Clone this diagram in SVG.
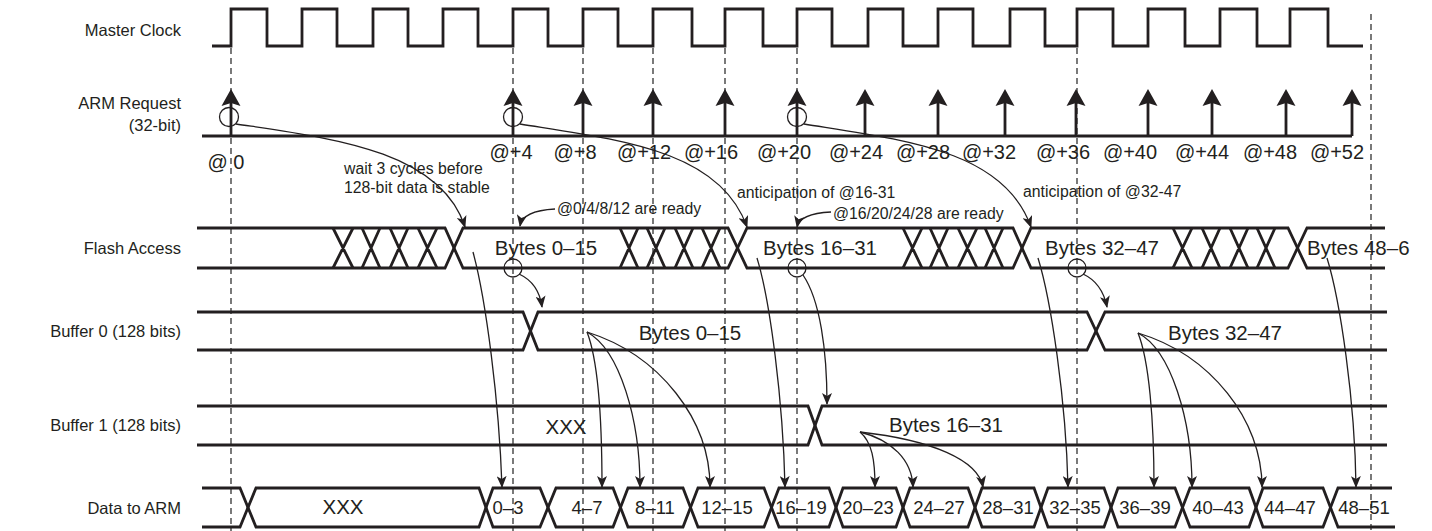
<svg xmlns="http://www.w3.org/2000/svg" width="1432" height="531" viewBox="0 0 1432 531">
<style>
.bg{fill:#ffffff}
.sig{fill:none;stroke:#231f20;stroke-width:2.8;stroke-linejoin:miter}
.dash{fill:none;stroke:#333;stroke-width:1.3;stroke-dasharray:6,4}
.thin{fill:none;stroke:#231f20;stroke-width:1.3}
.arr{fill:none;stroke:#231f20;stroke-width:1.3;marker-end:url(#ah)}
.circ{fill:none;stroke:#231f20;stroke-width:1.3}
.lbl{font-family:"Liberation Sans",Arial,sans-serif;font-size:16.5px;fill:#231f20;text-anchor:end}
.big{font-family:"Liberation Sans",Arial,sans-serif;font-size:20.5px;fill:#231f20;text-anchor:middle}
.dat{font-family:"Liberation Sans",Arial,sans-serif;font-size:18.5px;fill:#231f20;text-anchor:middle}
.at{font-family:"Liberation Sans",Arial,sans-serif;font-size:20px;fill:#231f20;text-anchor:middle}
.sm{font-family:"Liberation Sans",Arial,sans-serif;font-size:15.8px;fill:#231f20}
.req{fill:#231f20}
</style>
<defs>
<marker id="ah" viewBox="0 0 12 10" refX="11" refY="5" markerWidth="12" markerHeight="10" orient="auto" markerUnits="userSpaceOnUse">
<path d="M0,0 L12,5 L0,10 L3,5 z" fill="#231f20"/>
</marker>
</defs>
<rect class="bg" x="0" y="0" width="1432" height="531"/>

<g id="guides">
<path class="dash" d="M231,48 V531 M513,48 V531 M583,48 V531 M653,48 V531 M725,48 V531 M797,48 V531 M1077,48 V531 M1371,14 V531"/>
</g>

<g id="master-clock">
<text class="lbl" x="181" y="36">Master Clock</text>
<path class="sig" d="M212,46 H231 V9 H267 V46 H302 V9 H337 V46 H373 V9 H408 V46 H443 V9 H478 V46 H513 V9 H548 V46 H583 V9 H618 V46 H653 V9 H692 V46 H725 V9 H763 V46 H797 V9 H832 V46 H868 V9 H903 V46 H938 V9 H973 V46 H1010 V9 H1045 V46 H1077 V9 H1113 V46 H1148 V9 H1185 V46 H1220 V9 H1257 V46 H1290 V9 H1328 V46 H1363"/>
</g>

<g id="arm-request">
<text class="lbl" x="181" y="109">ARM Request</text>
<text class="lbl" x="181" y="131">(32-bit)</text>
<path class="sig" d="M202,136 H1352"/>
<path class="sig" d="M231,136 V102 M513,136 V102 M583,136 V102 M653,136 V102 M725,136 V102 M797,136 V102 M865,136 V102 M938,136 V102 M1005,136 V102 M1076,136 V102 M1148,136 V102 M1212,136 V102 M1286,136 V102 M1352,136 V102"/>
<g class="req">
<path d="M231,89 L240.5,106 L231,103 L221.5,106 Z"/>
<path d="M513,89 L522.5,106 L513,103 L503.5,106 Z"/>
<path d="M583,89 L592.5,106 L583,103 L573.5,106 Z"/>
<path d="M653,89 L662.5,106 L653,103 L643.5,106 Z"/>
<path d="M725,89 L734.5,106 L725,103 L715.5,106 Z"/>
<path d="M797,89 L806.5,106 L797,103 L787.5,106 Z"/>
<path d="M865,89 L874.5,106 L865,103 L855.5,106 Z"/>
<path d="M938,89 L947.5,106 L938,103 L928.5,106 Z"/>
<path d="M1005,89 L1014.5,106 L1005,103 L995.5,106 Z"/>
<path d="M1076,89 L1085.5,106 L1076,103 L1066.5,106 Z"/>
<path d="M1148,89 L1157.5,106 L1148,103 L1138.5,106 Z"/>
<path d="M1212,89 L1221.5,106 L1212,103 L1202.5,106 Z"/>
<path d="M1286,89 L1295.5,106 L1286,103 L1276.5,106 Z"/>
<path d="M1352,89 L1361.5,106 L1352,103 L1342.5,106 Z"/>
</g>
<circle class="circ" cx="229" cy="117" r="9.5"/>
<circle class="circ" cx="513" cy="117" r="9.5"/>
<circle class="circ" cx="797" cy="117" r="9.5"/>
<text class="at" x="226" y="169">@ 0</text>
<text class="at" x="511" y="159">@+4</text>
<text class="at" x="575" y="159">@+8</text>
<text class="at" x="644" y="159">@+12</text>
<text class="at" x="711" y="159">@+16</text>
<text class="at" x="784" y="159">@+20</text>
<text class="at" x="856" y="159">@+24</text>
<text class="at" x="923" y="159">@+28</text>
<text class="at" x="989" y="159">@+32</text>
<text class="at" x="1063" y="159">@+36</text>
<text class="at" x="1130" y="159">@+40</text>
<text class="at" x="1202" y="159">@+44</text>
<text class="at" x="1270" y="159">@+48</text>
<text class="at" x="1337" y="159">@+52</text>
</g>

<g id="flash-access">
<text class="lbl" x="181" y="254">Flash Access</text>
<path class="sig" d="M197,228 H445 L463,268 H728 L747,228 H1013 L1031,268 H1288 L1307,228 H1385"/>
<path class="sig" d="M197,268 H445 L463,228 H728 L747,268 H1013 L1031,228 H1288 L1307,268 H1385"/>
<path class="sig" d="M333,228 L353,268 M333,268 L353,228 M362,228 L380,268 M362,268 L380,228 M390,228 L408,268 M390,268 L408,228 M418,228 L437,268 M418,268 L437,228
M620,228 L638,268 M620,268 L638,228 M647,228 L665,268 M647,268 L665,228 M675,228 L693,268 M675,268 L693,228 M702,228 L720,268 M702,268 L720,228
M903,228 L922,268 M903,268 L922,228 M930,228 L948,268 M930,268 L948,228 M958,228 L977,268 M958,268 L977,228 M985,228 L1003,268 M985,268 L1003,228
M1173,228 L1192,268 M1173,268 L1192,228 M1202,228 L1220,268 M1202,268 L1220,228 M1230,228 L1248,268 M1230,268 L1248,228 M1257,228 L1275,268 M1257,268 L1275,228"/>
<text class="big" x="546" y="255">Bytes 0–15</text>
<text class="big" x="820" y="255">Bytes 16–31</text>
<text class="big" x="1102" y="255">Bytes 32–47</text>
<text class="big" x="1307" y="255" style="text-anchor:start">Bytes 48–6</text>
<circle class="circ" cx="513" cy="268" r="9"/>
<circle class="circ" cx="797" cy="268" r="9"/>
<circle class="circ" cx="1077" cy="268" r="9"/>
</g>

<g id="buffer-0">
<text class="lbl" x="181" y="337">Buffer 0 (128 bits)</text>
<path class="sig" d="M197,312 H523 L538,350 H1087 L1105,312 H1387"/>
<path class="sig" d="M197,350 H523 L538,312 H1087 L1105,350 H1387"/>
<text class="big" x="690" y="340">Bytes 0–15</text>
<text class="big" x="1225" y="340">Bytes 32–47</text>
</g>

<g id="buffer-1">
<text class="lbl" x="181" y="431">Buffer 1 (128 bits)</text>
<path class="sig" d="M197,406 H808 L822,445 H1387"/>
<path class="sig" d="M197,445 H808 L822,406 H1387"/>
<text class="big" x="566" y="434">XXX</text>
<text class="big" x="946" y="432">Bytes 16–31</text>
</g>

<g id="data-to-arm">
<text class="lbl" x="181" y="514">Data to ARM</text>
<path class="sig" d="M202,488 H240 L256,527 H479 L493,488 H540 L556,527 H613 L628,488 H683 L698,527 H764 L779,488 H829 L843,527 H896 L910,488 H968 L982,527 H1034 L1048,488 H1104 L1118,527 H1175 L1190,488 H1249 L1263,527 H1323 L1338,488 H1392"/>
<path class="sig" d="M202,527 H240 L256,488 H479 L493,527 H540 L556,488 H613 L628,527 H683 L698,488 H764 L779,527 H829 L843,488 H896 L910,527 H968 L982,488 H1034 L1048,527 H1104 L1118,488 H1175 L1190,527 H1249 L1263,488 H1323 L1338,527 H1395"/>
<text class="big" x="343" y="514">XXX</text>
<text class="dat" x="508" y="514">0–3</text>
<text class="dat" x="587" y="514">4–7</text>
<text class="dat" x="655" y="514">8–11</text>
<text class="dat" x="727" y="514">12–15</text>
<text class="dat" x="801" y="514">16–19</text>
<text class="dat" x="868" y="514">20–23</text>
<text class="dat" x="939" y="514">24–27</text>
<text class="dat" x="1008" y="514">28–31</text>
<text class="dat" x="1075" y="514">32–35</text>
<text class="dat" x="1145" y="514">36–39</text>
<text class="dat" x="1218" y="514">40–43</text>
<text class="dat" x="1290" y="514">44–47</text>
<text class="dat" x="1364" y="514">48–51</text>
</g>

<g id="annotations">
<text class="sm" x="344" y="174">wait 3 cycles before</text>
<text class="sm" x="344" y="193">128-bit data is stable</text>
<text class="sm" x="557" y="214">@0/4/8/12 are ready</text>
<text class="sm" x="737" y="198">anticipation of @16-31</text>
<text class="sm" x="833" y="219">@16/20/24/28 are ready</text>
<text class="sm" x="1023" y="197">anticipation of @32-47</text>
</g>

<g id="connectors">
<path class="arr" d="M236,124 C330,138 440,150 465,227"/>
<path class="arr" d="M520,124 C620,140 720,150 747,227"/>
<path class="arr" d="M804,124 C904,140 1004,150 1031,227"/>
<path class="arr" d="M555,209 C536,210 522,214 520,226"/>
<path class="arr" d="M831,212 C812,213 799,217 797,227"/>
<path class="arr" d="M519,274 C532,280 540,292 542,307"/>
<path class="arr" d="M803,275 C820,300 827,350 827,404"/>
<path class="arr" d="M1083,274 C1096,280 1104,292 1107,307"/>
<path class="arr" d="M473,252 C486,300 499,400 502,487"/>
<path class="arr" d="M757,258 C770,300 783,400 785,487"/>
<path class="arr" d="M1038,258 C1051,300 1066,400 1068,487"/>
<path class="arr" d="M1327,258 C1340,300 1355,400 1356,487"/>
<path class="arr" d="M587,332 C598,360 602,420 602,487"/>
<path class="arr" d="M587,332 C620,350 640,420 640,487"/>
<path class="arr" d="M587,332 C660,355 710,420 710,487"/>
<path class="arr" d="M860,432 C872,442 875,460 875,487"/>
<path class="arr" d="M860,432 C892,440 912,460 913,487"/>
<path class="arr" d="M860,432 C932,440 978,460 983,487"/>
<path class="arr" d="M1138,333 C1149,360 1154,420 1154,487"/>
<path class="arr" d="M1138,333 C1171,350 1192,420 1192,487"/>
<path class="arr" d="M1138,333 C1211,355 1262,420 1262,487"/>
</g>
</svg>
